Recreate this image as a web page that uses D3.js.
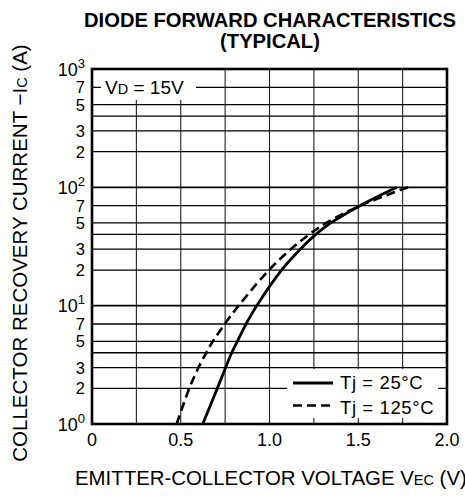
<!DOCTYPE html>
<html lang="en">
	<head>
		<meta charset="utf-8">
		<title>Diode forward characteristics</title>
		<script type="text/javascript" src="https://cdn.jsdelivr.net/npm/d3@7"></script>
		<style type="text/css">
			body { margin:0; background:#fff; }
			svg { display:block; font-family:"Liberation Sans", Arial, Helvetica, sans-serif; }
		</style>
	</head>
	<body>
		<script type="text/javascript">

			// data
			var currents = [1, 2, 3, 4, 5, 7, 10, 20, 30, 40, 50, 70, 100];
			var volts25  = [0.624, 0.706, 0.753, 0.787, 0.819, 0.868, 0.928, 1.068, 1.174, 1.261, 1.345, 1.51, 1.717];
			var volts125 = [0.477, 0.548, 0.600, 0.644, 0.681, 0.748, 0.826, 0.997, 1.12, 1.224, 1.32, 1.51, 1.78];
			var xTicks = [0, 0.5, 1.0, 1.5, 2.0];
			var xGrid = [0.25, 0.5, 0.75, 1.0, 1.25, 1.5, 1.75];
			var decades = [1, 10, 100, 1000];
			var minorMult = [2, 3, 4, 5, 7];
			var minorLabels = [2, 3, 5, 7];

			var w = 465, h = 497;
			var pLeft = 92, pRight = 447, pTop = 69, pBottom = 424;

			var svg = d3.select("body").append("svg")
						.attr("width", w)
						.attr("height", h);

			var x = d3.scaleLinear().domain([0, 2]).range([pLeft, pRight]);
			var y = d3.scaleLog().domain([1, 1000]).range([pBottom, pTop]);

			// grid
			var grid = svg.append("g");
			grid.selectAll("line.v").data(xGrid).enter().append("line")
				.attr("x1", function(d){ return x(d); })
				.attr("x2", function(d){ return x(d); })
				.attr("y1", pTop).attr("y2", pBottom)
				.attr("stroke", "#222").attr("stroke-width", 1.1);

			var hLines = [];
			decades.slice(0, 3).forEach(function(dec){
				if (dec > 1) hLines.push({v: dec, major: true});
				minorMult.forEach(function(m){ hLines.push({v: dec * m, major: false}); });
			});
			grid.selectAll("line.h").data(hLines).enter().append("line")
				.attr("x1", pLeft).attr("x2", pRight)
				.attr("y1", function(d){ return y(d.v); })
				.attr("y2", function(d){ return y(d.v); })
				.attr("stroke", "#000")
				.attr("stroke-width", function(d){ return d.major ? 1.8 : 1.3; });

			// white boxes for the annotation and legend
			svg.append("rect").attr("x", 101).attr("y", 70).attr("width", 95).attr("height", 30).attr("fill", "#fff");
			svg.append("rect").attr("x", 287).attr("y", 369).attr("width", 151).attr("height", 49).attr("fill", "#fff");

			// frame
			svg.append("rect")
				.attr("x", pLeft).attr("y", pTop)
				.attr("width", pRight - pLeft).attr("height", pBottom - pTop)
				.attr("fill", "none").attr("stroke", "#000").attr("stroke-width", 2.6);

			// curves
			var line = d3.line()
				.x(function(d){ return x(d[0]); })
				.y(function(d){ return y(d[1]); })
				.curve(d3.curveCatmullRom.alpha(0.5));

			svg.append("path")
				.attr("d", line(d3.zip(volts25, currents)))
				.attr("fill", "none").attr("stroke", "#000").attr("stroke-width", 2.8);
			svg.append("path")
				.attr("d", line(d3.zip(volts125, currents)))
				.attr("fill", "none").attr("stroke", "#000").attr("stroke-width", 2.6)
				.attr("stroke-dasharray", "9,5");

			// x tick labels
			svg.selectAll("text.xt").data(xTicks).enter().append("text")
				.attr("x", function(d){ return x(d); })
				.attr("y", 446)
				.attr("text-anchor", "middle")
				.attr("font-size", 18)
				.text(function(d){ return d === 0 ? "0" : d.toFixed(1); });

			// y tick labels: decades with superscripts
			decades.forEach(function(dec, i){
				var t = svg.append("text")
					.attr("x", 85).attr("y", y(dec) + 6.5)
					.attr("text-anchor", "end")
					.attr("font-size", 18);
				t.append("tspan").text("10");
				t.append("tspan").attr("font-size", 13).attr("dy", -8).text(String(i));
			});
			decades.slice(0, 3).forEach(function(dec){
				svg.selectAll(null).data(minorLabels).enter().append("text")
					.attr("x", 85)
					.attr("y", function(d){ return y(dec * d) + 6; })
					.attr("text-anchor", "end")
					.attr("font-size", 16.5)
					.text(function(d){ return d; });
			});

			// annotation
			var vd = svg.append("text").attr("x", 105).attr("y", 93.5).attr("font-size", 19);
			vd.append("tspan").text("V");
			vd.append("tspan").attr("font-size", 14.5).text("D");
			vd.append("tspan").text(" = 15V");

			// legend
			svg.append("line").attr("x1", 293).attr("x2", 333).attr("y1", 383).attr("y2", 383)
				.attr("stroke", "#000").attr("stroke-width", 3);
			svg.append("line").attr("x1", 293).attr("x2", 333).attr("y1", 405.5).attr("y2", 405.5)
				.attr("stroke", "#000").attr("stroke-width", 2.6).attr("stroke-dasharray", "9,5");
			svg.append("text").attr("x", 340).attr("y", 389).attr("font-size", 18.5)
				.attr("letter-spacing", 0.6).text("Tj = 25°C");
			svg.append("text").attr("x", 340).attr("y", 413.5).attr("font-size", 18.5)
				.attr("letter-spacing", 0.6).text("Tj = 125°C");

			// title
			svg.append("text").attr("x", 270).attr("y", 26.7).attr("text-anchor", "middle")
				.attr("font-size", 20.2).attr("font-weight", "bold").text("DIODE FORWARD CHARACTERISTICS");
			svg.append("text").attr("x", 270).attr("y", 48.3).attr("text-anchor", "middle")
				.attr("font-size", 20.2).attr("font-weight", "bold").text("(TYPICAL)");

			// axis titles
			var yt = svg.append("text")
				.attr("transform", "translate(27,253) rotate(-90)")
				.attr("text-anchor", "middle")
				.attr("font-size", 20.5);
			yt.append("tspan").text("COLLECTOR RECOVERY CURRENT  \u2212I");
			yt.append("tspan").attr("font-size", 14.5).text("C");
			yt.append("tspan").text(" (A)");

			var xt = svg.append("text").attr("x", 75).attr("y", 485).attr("font-size", 20.4);
			xt.append("tspan").text("EMITTER-COLLECTOR VOLTAGE  V");
			xt.append("tspan").attr("font-size", 14.5).text("EC");
			xt.append("tspan").text(" (V)");

		</script>
	</body>
</html>
